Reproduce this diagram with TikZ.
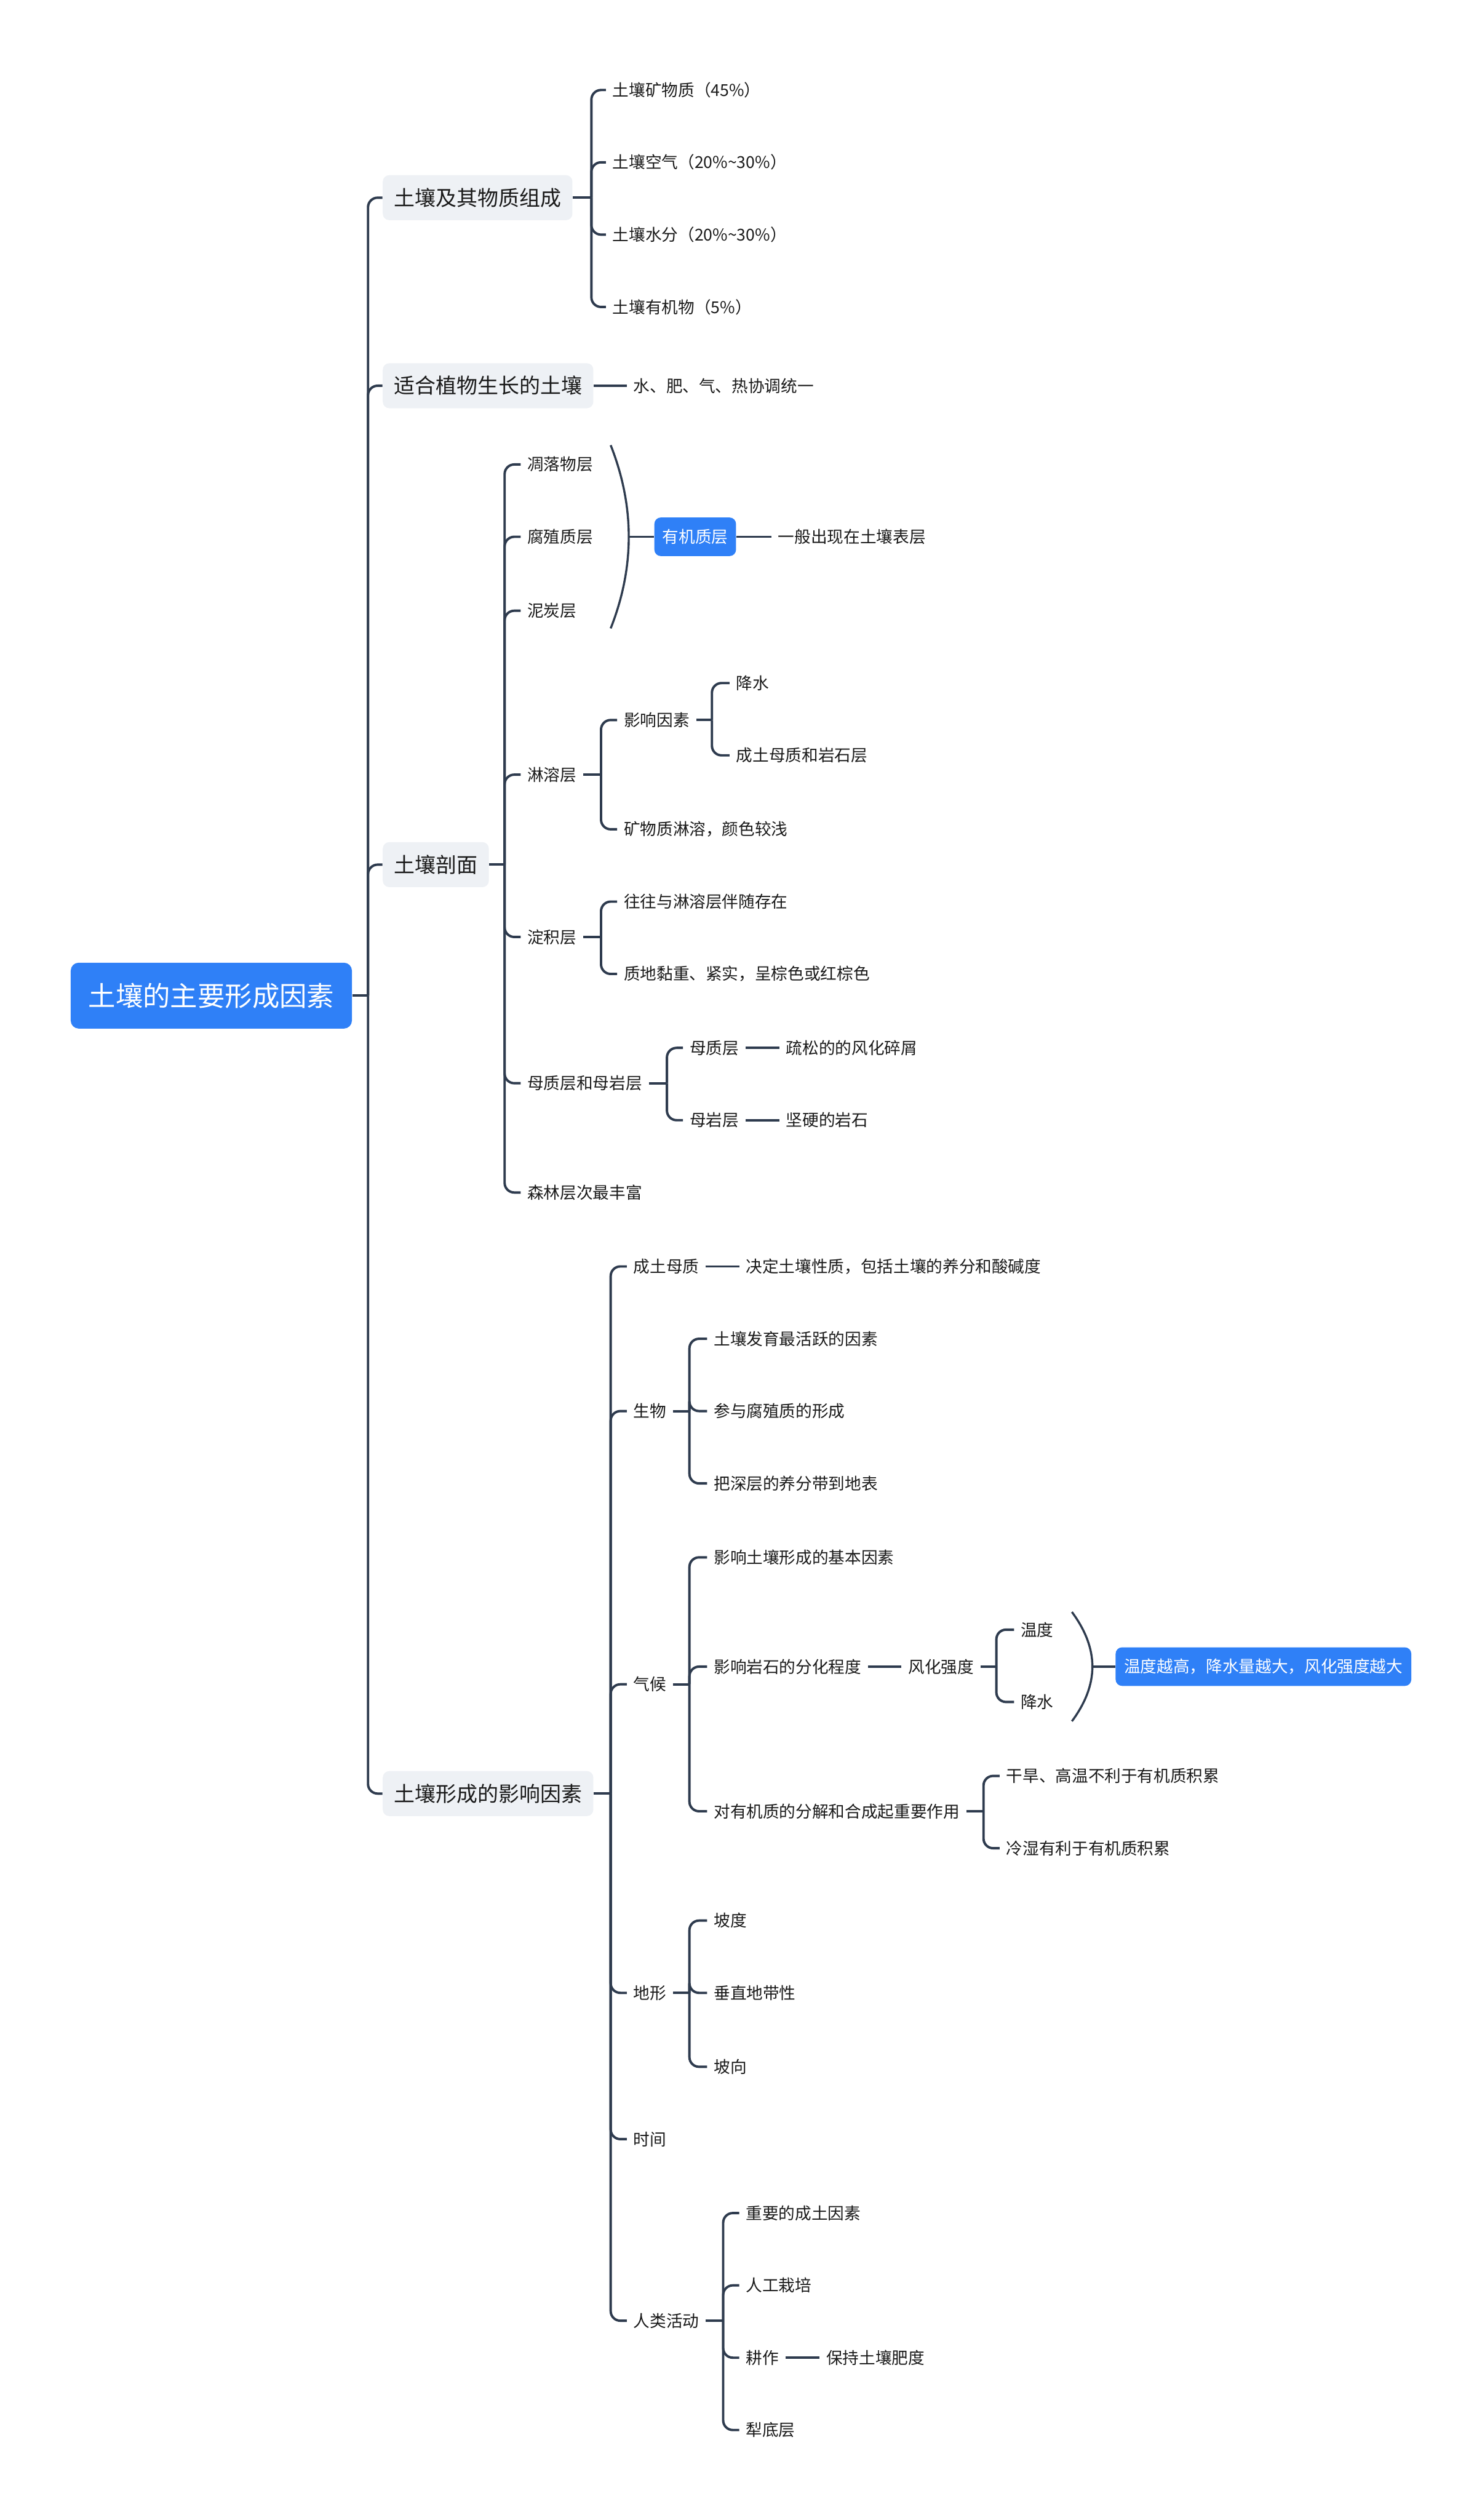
\documentclass[tikz,border=0pt]{standalone}
\usepackage{fontspec}
\setmainfont{Noto Sans CJK SC}
\definecolor{lc}{HTML}{2E3B4E}
\definecolor{tc}{HTML}{1A1A1A}
\definecolor{bl}{HTML}{2F80F7}
\definecolor{gbox}{HTML}{EEF1F5}
\newcommand{\brk}[3]{%
  \draw[conn] (#1.east) -- (#1.east -| #2);
  \foreach \cc in {#3} {\draw[conn] (#1.east -| #2) |- (\cc.west);}
}
\tikzset{
  conn/.style={draw=lc, line width=1.5pt, rounded corners=6pt},
  leaf/.style={anchor=west, inner xsep=4pt, inner ysep=2pt, text=tc, font=\fontsize{10.2}{12}\selectfont},
  lone/.style={anchor=west, fill=gbox, rounded corners=4pt, minimum height=28pt, inner xsep=7pt, inner ysep=2pt, text=tc, font=\fontsize{13}{15}\selectfont},
  rootn/.style={fill=bl, text=white, rounded corners=5pt, minimum width=175pt, minimum height=41pt, font=\fontsize{17}{20}\selectfont},
  hl/.style={anchor=west, fill=bl, text=white, rounded corners=4pt, minimum height=24pt, inner xsep=5pt, inner ysep=2pt, font=\fontsize{10.2}{12}\selectfont},
}
\begin{document}
\begin{tikzpicture}[x=1pt,y=-1pt]
\useasboundingbox (0,0) rectangle (922,1568);
% bracket x coordinates
\coordinate (T) at (229,0);
\coordinate (B1) at (368,0);
\coordinate (B3) at (314,0);
\coordinate (B34) at (374,0);
\coordinate (BD1) at (443,0);
\coordinate (B36) at (415,0);
\coordinate (B4) at (380,0);
\coordinate (BE) at (429,0);
\coordinate (BF2) at (620,0);
\coordinate (BF3) at (612,0);
\coordinate (BE6) at (450,0);

\node[rootn] (root) at (131.5,619.5) {土壤的主要形成因素};

\node[lone] (a1) at (238,123) {土壤及其物质组成};
\node[lone] (a2) at (238,240) {适合植物生长的土壤};
\node[lone] (a3) at (238,538) {土壤剖面};
\node[lone] (a4) at (238,1116) {土壤形成的影响因素};

\node[leaf] (c11) at (377,56) {土壤矿物质（45\%）};
\node[leaf] (c12) at (377,101) {土壤空气（20\%\textasciitilde30\%）};
\node[leaf] (c13) at (377,146) {土壤水分（20\%\textasciitilde30\%）};
\node[leaf] (c14) at (377,191) {土壤有机物（5\%）};

\node[leaf] (c21) at (390,240) {水、肥、气、热协调统一};

\node[leaf] (c31) at (324,289) {凋落物层};
\node[leaf] (c32) at (324,334) {腐殖质层};
\node[leaf] (c33) at (324,380) {泥炭层};
\node[leaf] (c34) at (324,482) {淋溶层};
\node[leaf] (c35) at (324,583) {淀积层};
\node[leaf] (c36) at (324,674) {母质层和母岩层};
\node[leaf] (c37) at (324,742) {森林层次最丰富};

\coordinate (s1top) at (380,277);
\coordinate (s1bot) at (380,391);
\coordinate (s1tip) at (391,334);
\node[hl] (yj) at (407,334) {有机质层};
\node[leaf] (yjd) at (480,334) {一般出现在土壤表层};

\node[leaf] (d1) at (384,448) {影响因素};
\node[leaf] (d2) at (384,516) {矿物质淋溶，颜色较浅};
\node[leaf] (d11) at (454,425) {降水};
\node[leaf] (d12) at (454,470) {成土母质和岩石层};

\node[leaf] (g1) at (384,561) {往往与淋溶层伴随存在};
\node[leaf] (g2) at (384,606) {质地黏重、紧实，呈棕色或红棕色};

\node[leaf] (m1) at (425,652) {母质层};
\node[leaf] (m2) at (425,697) {母岩层};
\node[leaf] (m1d) at (485,652) {疏松的的风化碎屑};
\node[leaf] (m2d) at (485,697) {坚硬的岩石};

\node[leaf] (e1) at (390,788) {成土母质};
\node[leaf] (e1d) at (460,788) {决定土壤性质，包括土壤的养分和酸碱度};
\node[leaf] (e2) at (390,878) {生物};
\node[leaf] (e21) at (440,833) {土壤发育最活跃的因素};
\node[leaf] (e22) at (440,878) {参与腐殖质的形成};
\node[leaf] (e23) at (440,923) {把深层的养分带到地表};
\node[leaf] (e3) at (390,1048) {气候};
\node[leaf] (f1) at (440,969) {影响土壤形成的基本因素};
\node[leaf] (f2) at (440,1037) {影响岩石的分化程度};
\node[leaf] (f2d) at (561,1037) {风化强度};
\node[leaf] (f21) at (631,1014) {温度};
\node[leaf] (f22) at (631,1059) {降水};
\coordinate (s2top) at (667,1003);
\coordinate (s2bot) at (667,1071);
\coordinate (s2tip) at (680,1037);
\node[hl, minimum width=184pt] (wd) at (694,1037) {温度越高，降水量越大，风化强度越大};
\node[leaf] (f3) at (440,1127) {对有机质的分解和合成起重要作用};
\node[leaf] (f31) at (622,1105) {干旱、高温不利于有机质积累};
\node[leaf] (f32) at (622,1150) {冷湿有利于有机质积累};
\node[leaf] (e4) at (390,1240) {地形};
\node[leaf] (e41) at (440,1195) {坡度};
\node[leaf] (e42) at (440,1240) {垂直地带性};
\node[leaf] (e43) at (440,1286) {坡向};
\node[leaf] (e5) at (390,1331) {时间};
\node[leaf] (e6) at (390,1444) {人类活动};
\node[leaf] (h1) at (460,1377) {重要的成土因素};
\node[leaf] (h2) at (460,1422) {人工栽培};
\node[leaf] (h3) at (460,1467) {耕作};
\node[leaf] (h3d) at (510,1467) {保持土壤肥度};
\node[leaf] (h4) at (460,1512) {犁底层};

% connectors
\brk{root}{T}{a1,a2,a3,a4}
\brk{a1}{B1}{c11,c12,c13,c14}
\draw[conn] (a2.east) -- (c21.west);
\brk{a3}{B3}{c31,c32,c33,c34,c35,c36,c37}
\draw[conn, rounded corners=0pt, line width=1.3pt] (s1top) .. controls (395,315) and (395,353) .. (s1bot);
\draw[conn] (s1tip) -- (yj.west);
\draw[conn] (yj.east) -- (yjd.west);
\brk{c34}{B34}{d1,d2}
\brk{d1}{BD1}{d11,d12}
\brk{c35}{B34}{g1,g2}
\brk{c36}{B36}{m1,m2}
\draw[conn] (m1.east) -- (m1d.west);
\draw[conn] (m2.east) -- (m2d.west);
\brk{a4}{B4}{e1,e2,e3,e4,e5,e6}
\draw[conn] (e1.east) -- (e1d.west);
\brk{e2}{BE}{e21,e22,e23}
\brk{e3}{BE}{f1,f2,f3}
\draw[conn] (f2.east) -- (f2d.west);
\brk{f2d}{BF2}{f21,f22}
\draw[conn, rounded corners=0pt, line width=1.3pt] (s2top) .. controls (684,1026) and (684,1048) .. (s2bot);
\draw[conn] (s2tip) -- (wd.west);
\brk{f3}{BF3}{f31,f32}
\brk{e4}{BE}{e41,e42,e43}
\brk{e6}{BE6}{h1,h2,h3,h4}
\draw[conn] (h3.east) -- (h3d.west);
\end{tikzpicture}
\end{document}
